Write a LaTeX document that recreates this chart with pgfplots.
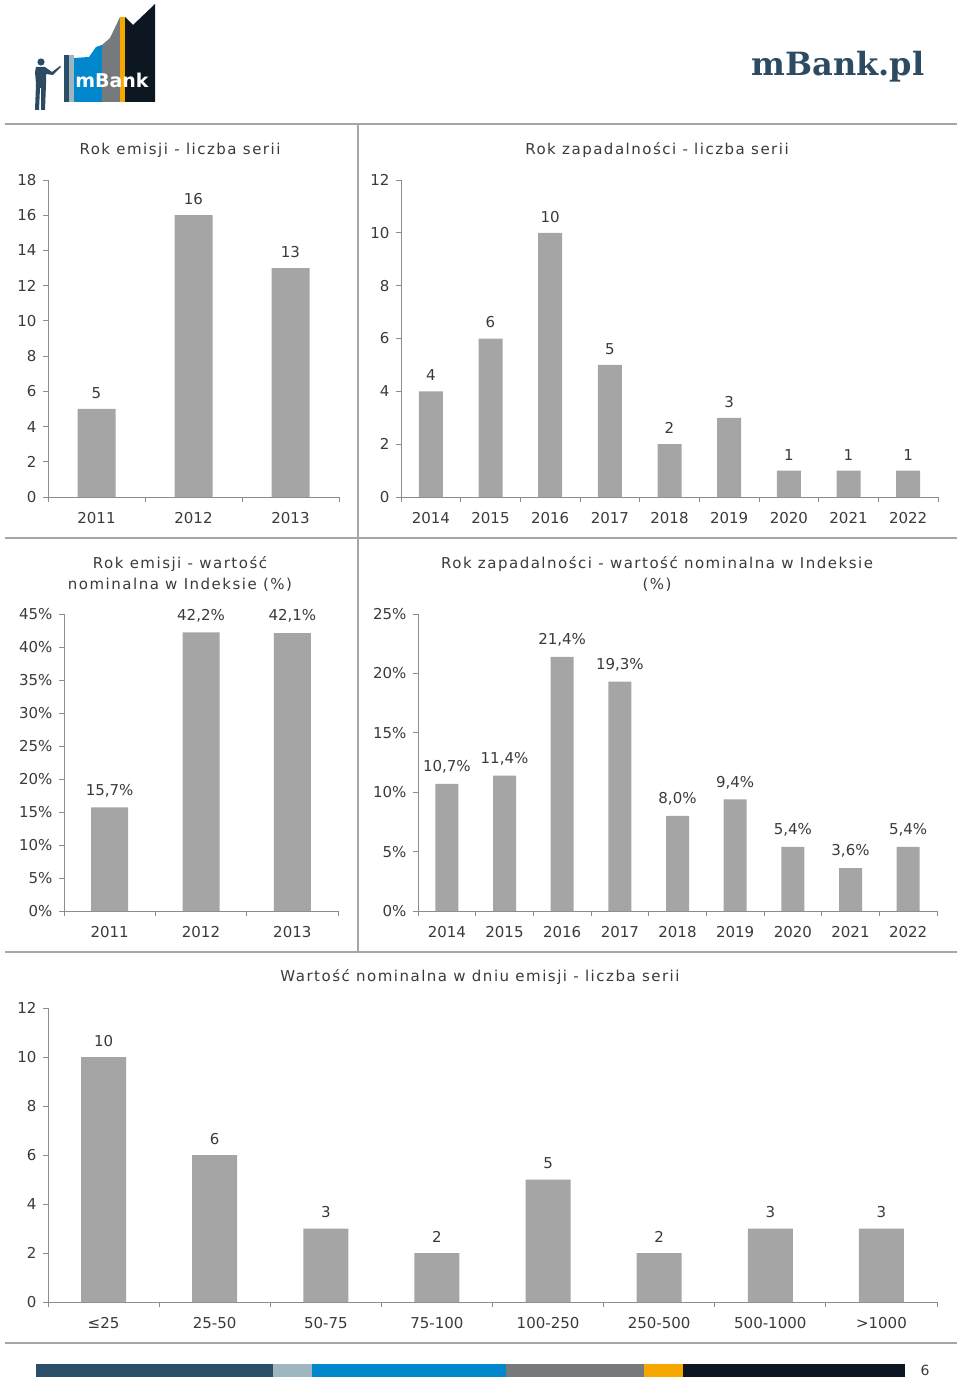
\documentclass[border=0pt]{standalone}
\usepackage{fontspec}
\setmainfont{DejaVu Sans}
\newfontfamily\slabfont{DejaVu Serif}
\newfontfamily\titlefont[LetterSpace=10]{DejaVu Sans}
\usepackage{pgfplots}
\pgfplotsset{compat=1.18}

\definecolor{bargray}{HTML}{A5A5A5}
\definecolor{axisgray}{HTML}{8C8C8C}
\definecolor{txt}{HTML}{3A3A3A}
\definecolor{rulegray}{HTML}{A6A6A6}
\definecolor{navy}{HTML}{2B4E69}
\definecolor{paleblue}{HTML}{9FB6C1}
\definecolor{mblue}{HTML}{0087CC}
\definecolor{midgray}{HTML}{767A7D}
\definecolor{morange}{HTML}{F6A800}
\definecolor{mblack}{HTML}{0C1721}
\definecolor{slate}{HTML}{2C4B63}

\newcommand{\lbl}{\fontsize{15}{18}\selectfont}
\newcommand{\ttl}{\titlefont\fontsize{15}{21}\selectfont}

\pgfplotsset{
  pagebar/.style={
    scale only axis, anchor=south west,
    ybar, ymin=0, enlargelimits=false, clip=false,
    axis x line*=bottom, axis y line*=left,
    axis line style={draw=axisgray, line width=0.8pt},
    tick align=outside, major tick length=5pt, minor tick length=5pt,
    major x tick style={draw=none},
    minor x tick style={draw=axisgray, line width=0.8pt},
    ytick style={draw=axisgray, line width=0.8pt},
    ticklabel style={font=\lbl, text=txt},
    xticklabel style={yshift=-7pt},
    yticklabel style={xshift=-3pt},
    /pgf/number format/assume math mode=true,
    nodes near coords style={font=\lbl, text=txt, yshift=7pt},
  },
  pct/.style={
    yticklabel={\pgfmathprintnumber{\tick}\%},
    nodes near coords={\pgfmathprintnumber[fixed,fixed zerofill,precision=1,use comma,assume math mode=true]{\pgfplotspointmeta}\%},
  },
}

\begin{document}
\begin{tikzpicture}

% ---------- header
\begin{scope}[x=1pt,y=-1pt]
  % person
  \fill[slate] (41,62) circle (3.6);
  \fill[slate] (36,67) -- (45,67) -- (52,72) -- (60,66) -- (61,67) -- (53,75) -- (46,74)
     -- (46,84) -- (45,110) -- (41,110) -- (41,88) -- (40,88) -- (39,110) -- (35,110)
     -- (36,84) -- (35,72) -- cycle;
  % logo
  \fill[navy] (64,55) rectangle (69,102);
  \fill[paleblue] (69,55) rectangle (74,102);
  \fill[mblue] (74,58) -- (89,57) -- (96,47) -- (102,45) -- (102,102) -- (74,102) -- cycle;
  \fill[midgray] (102,45) -- (110,38) -- (120,17) -- (120,102) -- (102,102) -- cycle;
  \fill[morange] (120,17) rectangle (125,102);
  \fill[mblack] (125,17) -- (133,25) -- (155,4) -- (155,102) -- (125,102) -- cycle;
  \node[text=white, font=\fontsize{19}{20}\bfseries\selectfont] at (112,80) {mBank};
  \node[text=slate, font=\slabfont\fontsize{32}{34}\bfseries\selectfont] at (838,67) {mBank.pl};

  % frame rules
  \draw[rulegray, line width=1.2pt] (5,124) -- (957,124);
  \draw[rulegray, line width=1.2pt] (5,538) -- (957,538);
  \draw[rulegray, line width=1.2pt] (5,952) -- (957,952);
  \draw[rulegray, line width=1.2pt] (5,1343) -- (957,1343);
  \draw[rulegray, line width=1.2pt] (358,124) -- (358,952);

  % titles
  \node[text=txt, font=\ttl] at (180,150) {Rok emisji - liczba serii};
  \node[text=txt, font=\ttl] at (657,150) {Rok zapadalności - liczba serii};
  \node[text=txt, font=\ttl, align=center] at (180,574) {Rok emisji - wartość\\nominalna w Indeksie (\%)};
  \node[text=txt, font=\ttl, align=center] at (657,574) {Rok zapadalności - wartość nominalna w Indeksie\\(\%)};
  \node[text=txt, font=\ttl] at (480,977) {Wartość nominalna w dniu emisji - liczba serii};

  % footer stripe
  \fill[navy] (36,1364) rectangle (273,1377);
  \fill[paleblue] (273,1364) rectangle (312,1377);
  \fill[mblue] (312,1364) rectangle (506,1377);
  \fill[midgray] (506,1364) rectangle (644,1377);
  \fill[morange] (644,1364) rectangle (683,1377);
  \fill[mblack] (683,1364) rectangle (905,1377);
  \node[text=txt, font=\fontsize{14}{16}\selectfont] at (925,1370) {6};
\end{scope}

% ---------- Rok emisji - liczba serii
\begin{axis}[pagebar, at={(48pt,-497pt)}, width=291pt, height=317pt,
  bar width=38pt, xmin=-0.5, xmax=2.5, ymax=18, ytick={0,2,...,18},
  xtick={0,1,2}, xticklabels={2011,2012,2013}, minor xtick={-0.5,0.5,1.5,2.5},
  nodes near coords]
  \addplot[fill=bargray, draw=none] coordinates {(0,5) (1,16) (2,13)};
\end{axis}

% ---------- Rok zapadalnosci - liczba serii
\begin{axis}[pagebar, at={(401pt,-497pt)}, width=537pt, height=317pt,
  bar width=24pt, xmin=-0.5, xmax=8.5, ymax=12, ytick={0,2,...,12},
  xtick={0,...,8}, xticklabels={2014,2015,2016,2017,2018,2019,2020,2021,2022},
  minor xtick={-0.5,0.5,...,8.5}, nodes near coords]
  \addplot[fill=bargray, draw=none] coordinates {(0,4) (1,6) (2,10) (3,5) (4,2) (5,3) (6,1) (7,1) (8,1)};
\end{axis}

% ---------- Rok emisji - wartosc nominalna
\begin{axis}[pagebar, pct, at={(64pt,-911pt)}, width=274pt, height=297pt,
  bar width=37pt, xmin=-0.5, xmax=2.5, ymax=45, ytick={0,5,...,45},
  xtick={0,1,2}, xticklabels={2011,2012,2013}, minor xtick={-0.5,0.5,1.5,2.5}]
  \addplot[fill=bargray, draw=none] coordinates {(0,15.7) (1,42.2) (2,42.1)};
\end{axis}

% ---------- Rok zapadalnosci - wartosc nominalna
\begin{axis}[pagebar, pct, at={(418pt,-911pt)}, width=519pt, height=297pt,
  bar width=23pt, xmin=-0.5, xmax=8.5, ymax=25, ytick={0,5,...,25},
  xtick={0,...,8}, xticklabels={2014,2015,2016,2017,2018,2019,2020,2021,2022},
  minor xtick={-0.5,0.5,...,8.5}]
  \addplot[fill=bargray, draw=none] coordinates {(0,10.7) (1,11.4) (2,21.4) (3,19.3) (4,8.0) (5,9.4) (6,5.4) (7,3.6) (8,5.4)};
\end{axis}

% ---------- Wartosc nominalna w dniu emisji
\begin{axis}[pagebar, at={(48pt,-1302pt)}, width=889pt, height=294pt,
  bar width=45pt, xmin=-0.5, xmax=7.5, ymax=12, ytick={0,2,...,12},
  xtick={0,...,7}, xticklabels={≤25,25-50,50-75,75-100,100-250,250-500,500-1000,>1000},
  minor xtick={-0.5,0.5,...,7.5}, nodes near coords]
  \addplot[fill=bargray, draw=none] coordinates {(0,10) (1,6) (2,3) (3,2) (4,5) (5,2) (6,3) (7,3)};
\end{axis}

\pgfresetboundingbox
\path[use as bounding box] (0,0) rectangle (960pt,-1378pt);
\end{tikzpicture}
\end{document}
